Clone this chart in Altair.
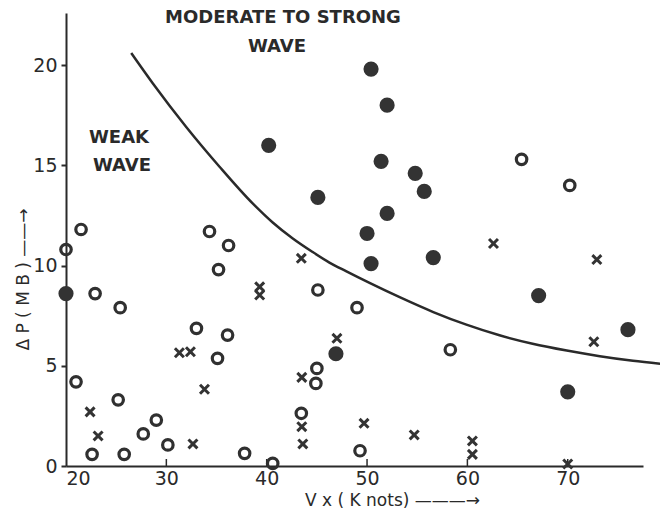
import altair as alt
import pandas as pd

# Filled circles (moderate to strong wave)
fill_x = [20.0, 40.2, 45.1, 50.4, 52.0, 51.4, 54.8, 55.7, 52.0, 50.0, 56.6, 50.4, 67.1, 76.0, 46.9, 70.0]
fill_y = [8.6, 16.0, 13.4, 19.8, 18.0, 15.2, 14.6, 13.7, 12.6, 11.6, 10.4, 10.1, 8.5, 6.8, 5.6, 3.7]

# Open circles
open_x = [20.0, 21.5, 34.3, 36.2, 65.4, 70.2, 35.2, 22.9, 25.4, 33.0, 36.1, 35.1, 21.0, 25.2,
          29.0, 27.7, 30.15, 22.6, 25.8, 37.8, 40.6, 45.1, 45.0, 44.9, 43.45, 49.0, 58.3, 49.3]
open_y = [10.8, 11.8, 11.7, 11.0, 15.3, 14.0, 9.8, 8.6, 7.9, 6.87, 6.53, 5.37, 4.2, 3.3,
          2.29, 1.6, 1.05, 0.58, 0.58, 0.63, 0.13, 8.78, 4.87, 4.12, 2.63, 7.9, 5.8, 0.76]

# Crosses
cross_x = [43.45, 39.3, 39.3, 31.3, 32.4, 33.8, 22.4, 23.2, 32.65, 43.5, 43.5, 43.6, 47.0,
           49.7, 54.7, 60.5, 60.5, 70.0, 62.6, 72.9, 72.6]
cross_y = [10.36, 8.94, 8.53, 5.65, 5.7, 3.83, 2.7, 1.5, 1.1, 4.42, 1.96, 1.1, 6.37,
           2.13, 1.55, 1.25, 0.58, 0.1, 11.1, 10.3, 6.2]

# Dividing curve
curve_x = [26.5, 28.66, 32.0, 35.3, 38.6, 40.6, 42.6, 44.5, 46.25, 47.9, 50.3, 53.25, 56.6,
           59.9, 63.2, 66.5, 69.9, 73.2, 76.5, 79.2]
curve_y = [20.6, 19.08, 16.9, 14.93, 13.1, 12.15, 11.35, 10.7, 10.15, 9.72, 9.12, 8.42, 7.68,
           7.05, 6.52, 6.1, 5.76, 5.48, 5.25, 5.1]

x_ticks = [20, 30, 40, 50, 60, 70]
y_ticks = [0, 5, 10, 15, 20]
inner_ticks = [30, 40, 50, 60, 70]

INK = "#2a2a2a"
FONT = "DejaVu Sans"

xs = alt.Scale(domain=[20, 77.5], nice=False, zero=False)
ys = alt.Scale(domain=[0, 22.6], nice=False, zero=False)

x_axis = alt.Axis(values=x_ticks, tickSize=0, labelPadding=3, labelFont=FONT, labelFontSize=19,
                  labelColor=INK, domainColor=INK, domainWidth=2, grid=False,
                  title="V x  ( K nots)   ———→", titleFont=FONT, titleFontSize=17,
                  titleFontWeight="normal", titleColor=INK, titleX=326, titleY=34,
                  titleAlign="center", titleBaseline="middle")
y_axis = alt.Axis(values=y_ticks, tickSize=5, tickColor=INK, tickWidth=2, labelPadding=4,
                  labelFont=FONT, labelFontSize=19, labelColor=INK, domainColor=INK,
                  domainWidth=2, grid=False,
                  title="Δ  P  ( M  B )    ——→", titleFont=FONT, titleFontSize=17,
                  titleFontWeight="normal", titleColor=INK, titleX=-43, titleY=266,
                  titleAngle=-90, titleAlign="center", titleBaseline="middle")

df_fill = pd.DataFrame({"x": fill_x, "y": fill_y})
df_open = pd.DataFrame({"x": open_x, "y": open_y})
df_cross = pd.DataFrame({"x": cross_x, "y": cross_y})
df_curve = pd.DataFrame({"x": curve_x, "y": curve_y})
df_ticks = pd.DataFrame({"x": inner_ticks})

curve = alt.Chart(df_curve).mark_line(color=INK, strokeWidth=2.5, interpolate="monotone").encode(
    x=alt.X("x:Q", scale=xs, axis=x_axis),
    y=alt.Y("y:Q", scale=ys, axis=y_axis),
)
filled = alt.Chart(df_fill).mark_point(shape="circle", filled=True, size=230, color="#333333",
                                       opacity=1).encode(
    x=alt.X("x:Q", scale=xs), y=alt.Y("y:Q", scale=ys))
opened = alt.Chart(df_open).mark_point(shape="circle", filled=False, size=110, color="#303030",
                                       strokeWidth=3.2, opacity=1).encode(
    x=alt.X("x:Q", scale=xs), y=alt.Y("y:Q", scale=ys))
crosses = alt.Chart(df_cross).mark_point(shape="M-1,-1L1,1M1,-1L-1,1", filled=False, size=80,
                                         color="#333333", strokeWidth=3, opacity=1).encode(
    x=alt.X("x:Q", scale=xs), y=alt.Y("y:Q", scale=ys))
ticks = alt.Chart(df_ticks).mark_rule(color=INK, strokeWidth=1.5).encode(
    x=alt.X("x:Q", scale=xs), y=alt.value(453), y2=alt.value(446))

def label(text, px, py, size=18):
    return alt.Chart(pd.DataFrame({"t": [text]})).mark_text(
        font=FONT, fontSize=size, fontWeight="bold", color=INK, align="center",
        baseline="middle").encode(text="t:N", x=alt.value(px), y=alt.value(py))

labels = (label("MODERATE TO STRONG", 217, 5) + label("WAVE", 211, 34)
          + label("WEAK", 53, 125) + label("WAVE", 56, 153))

chart = alt.layer(curve, ticks, opened, crosses, filled, labels).properties(
    width=577, height=453,
    autosize=alt.AutoSizeParams(type="none"),
    padding={"left": 66, "top": 13, "right": 17, "bottom": 46},
    background="white",
).configure_view(stroke=None)

chart.save("out.html", embed_options={"renderer": "svg", "actions": False})
